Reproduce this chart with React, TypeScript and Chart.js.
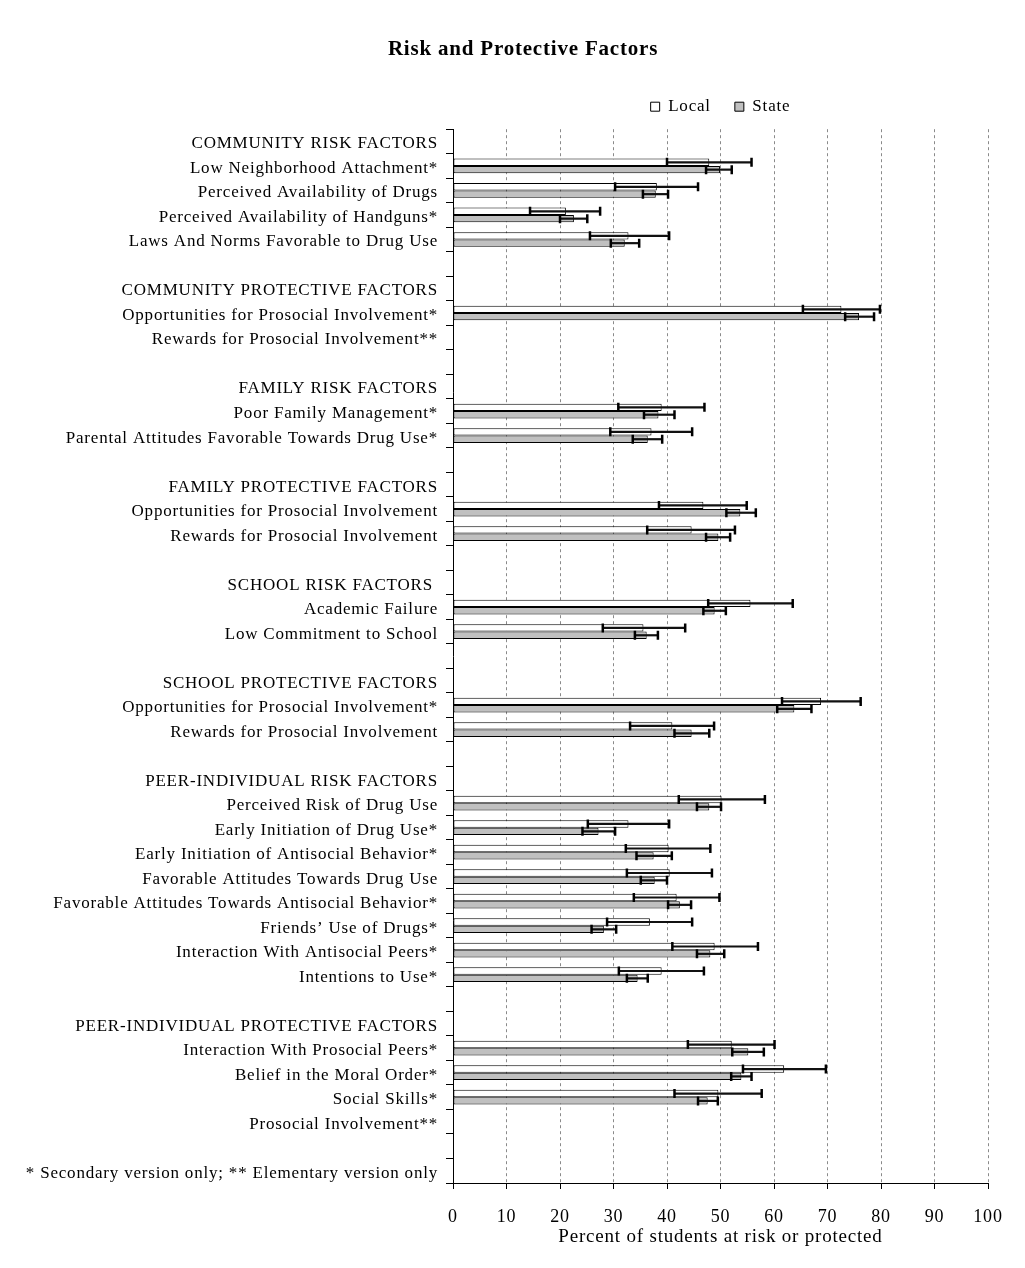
import React, { useEffect, useRef } from "react";
import { Chart, registerables } from "chart.js";

Chart.register(...registerables);

const N = null;
const FONT = "'Liberation Serif', 'Times New Roman', serif";

const categories = [
  "COMMUNITY RISK FACTORS",
  "Low Neighborhood Attachment*",
  "Perceived Availability of Drugs",
  "Perceived Availability of Handguns*",
  "Laws And Norms Favorable to Drug Use",
  "",
  "COMMUNITY PROTECTIVE FACTORS",
  "Opportunities for Prosocial Involvement*",
  "Rewards for Prosocial Involvement**",
  "",
  "FAMILY RISK FACTORS",
  "Poor Family Management*",
  "Parental Attitudes Favorable Towards Drug Use*",
  "",
  "FAMILY PROTECTIVE FACTORS",
  "Opportunities for Prosocial Involvement",
  "Rewards for Prosocial Involvement",
  "",
  "SCHOOL RISK FACTORS ",
  "Academic Failure",
  "Low Commitment to School",
  "",
  "SCHOOL PROTECTIVE FACTORS",
  "Opportunities for Prosocial Involvement*",
  "Rewards for Prosocial Involvement",
  "",
  "PEER-INDIVIDUAL RISK FACTORS",
  "Perceived Risk of Drug Use",
  "Early Initiation of Drug Use*",
  "Early Initiation of Antisocial Behavior*",
  "Favorable Attitudes Towards Drug Use",
  "Favorable Attitudes Towards Antisocial Behavior*",
  "Friends\u2019 Use of Drugs*",
  "Interaction With Antisocial Peers*",
  "Intentions to Use*",
  "",
  "PEER-INDIVIDUAL PROTECTIVE FACTORS",
  "Interaction With Prosocial Peers*",
  "Belief in the Moral Order*",
  "Social Skills*",
  "Prosocial Involvement**",
  "",
  "* Secondary version only; ** Elementary version only",
];

const localValues = [N, 47.9, 38.1, 21.1, 32.8, N, N, 72.6, N, N, N, 39.0, 37.1, N, N, 46.8, 44.6, N, N, 55.6, 35.6, N, N, 68.8, 41.0, N, N, 50.2, 32.8, 40.3, 40.5, 41.8, 36.8, 48.9, 39.0, N, N, 52.1, 61.9, 49.6, N, N, N];
const localLow = [N, 40.0, 30.3, 14.4, 25.6, N, N, 65.4, N, N, N, 30.9, 29.4, N, N, 38.5, 36.3, N, N, 47.7, 28.0, N, N, 61.5, 33.1, N, N, 42.2, 25.2, 32.3, 32.5, 33.8, 28.8, 41.0, 31.0, N, N, 43.9, 54.2, 41.4, N, N, N];
const localHigh = [N, 55.8, 45.8, 27.5, 40.4, N, N, 79.8, N, N, N, 47.0, 44.7, N, N, 54.9, 52.7, N, N, 63.5, 43.4, N, N, 76.2, 48.8, N, N, 58.3, 40.4, 48.1, 48.4, 49.8, 44.7, 57.0, 46.9, N, N, 60.1, 69.7, 57.7, N, N, N];

const stateValues = [N, 49.9, 37.9, 22.6, 32.1, N, N, 75.9, N, N, N, 38.4, 36.4, N, N, 53.7, 49.6, N, N, 48.9, 36.2, N, N, 63.8, 44.6, N, N, 47.9, 27.2, 37.5, 37.7, 42.4, 28.2, 48.1, 34.5, N, N, 55.2, 53.9, 47.6, N, N, N];
const stateLow = [N, 47.3, 35.5, 20.0, 29.5, N, N, 73.3, N, N, N, 35.7, 33.6, N, N, 51.1, 47.3, N, N, 46.8, 34.0, N, N, 60.6, 41.4, N, N, 45.6, 24.2, 34.3, 35.1, 40.2, 25.9, 45.6, 32.5, N, N, 52.2, 52.0, 45.8, N, N, N];
const stateHigh = [N, 52.1, 40.2, 25.1, 34.8, N, N, 78.7, N, N, N, 41.4, 39.1, N, N, 56.6, 51.8, N, N, 51.0, 38.3, N, N, 67.0, 47.9, N, N, 50.1, 30.3, 40.9, 40.0, 44.5, 30.5, 50.7, 36.4, N, N, 58.1, 55.8, 49.5, N, N, N];

const seriesNames = ["Local", "State"];
const xTickStep = 10;
const xMin = 0;
const xMax = 100;

const SPACING = "0.8px";
const spacingPlugin = {
  id: "letterSpacing",
  beforeLayout(chart: any) {
    chart.ctx.letterSpacing = SPACING;
  },
  beforeDraw(chart: any) {
    chart.ctx.letterSpacing = SPACING;
  },
};

const errorBarPlugin = {
  id: "errorBars",
  afterDatasetsDraw(chart: any) {
    const ctx = chart.ctx;
    const xs = chart.scales.x;
    const bounds = [
      [localLow, localHigh],
      [stateLow, stateHigh],
    ];
    bounds.forEach(([lo, hi], d) => {
      const meta = chart.getDatasetMeta(d);
      meta.data.forEach((el: any, i: number) => {
        if (lo[i] == null || hi[i] == null) return;
        const y = el.y;
        const x1 = xs.getPixelForValue(lo[i]);
        const x2 = xs.getPixelForValue(hi[i]);
        ctx.save();
        ctx.strokeStyle = "#111";
        ctx.lineWidth = 2.2;
        ctx.beginPath();
        ctx.moveTo(x1, y);
        ctx.lineTo(x2, y);
        ctx.stroke();
        ctx.strokeStyle = "#000";
        ctx.lineWidth = 2.5;
        ctx.beginPath();
        ctx.moveTo(x1, y - 4.5);
        ctx.lineTo(x1, y + 4.5);
        ctx.moveTo(x2, y - 4.5);
        ctx.lineTo(x2, y + 4.5);
        ctx.stroke();
        ctx.restore();
      });
    });
  },
};

export default function App() {
  const ref = useRef<HTMLCanvasElement | null>(null);

  useEffect(() => {
    if (!ref.current) return;
    const chart = new Chart(ref.current, {
      type: "bar",
      data: {
        labels: categories,
        datasets: [
          {
            label: seriesNames[0],
            data: localValues as any,
            backgroundColor: "#ffffff",
            borderColor: "#000000",
            borderWidth: 1,
            borderSkipped: false,
            xAxisID: "x",
            yAxisID: "y",
            barPercentage: 1,
            categoryPercentage: 0.6,
          },
          {
            label: seriesNames[1],
            data: stateValues as any,
            backgroundColor: "#c0c0c0",
            borderColor: "#000000",
            borderWidth: 1,
            borderSkipped: false,
            xAxisID: "x",
            yAxisID: "y",
            barPercentage: 1,
            categoryPercentage: 0.6,
          },
        ],
      },
      options: {
        indexAxis: "y",
        responsive: false,
        animation: false,
        devicePixelRatio: 1,
        layout: { padding: { left: 21, right: 0, top: 0, bottom: 20 } },
        plugins: {
          title: {
            display: true,
            text: "Risk and Protective Factors",
            color: "#000",
            font: { family: FONT, size: 21, weight: "bold" },
            padding: { top: 37, bottom: 12 },
          },
          legend: {
            display: true,
            position: "top",
            fullSize: false,
            labels: {
              color: "#000",
              font: { family: FONT, size: 17 },
              boxWidth: 9,
              boxHeight: 9,
              padding: 24,
            },
          },
          subtitle: {
            display: true,
            text: " ",
            weight: 500,
            font: { size: 1, lineHeight: 1 },
            padding: { top: 3, bottom: 0 },
          } as any,
          tooltip: { enabled: false },
        },
        scales: {
          x: {
            type: "linear",
            position: "bottom",
            min: xMin,
            max: xMax,
            ticks: {
              stepSize: xTickStep,
              color: "#000",
              font: { family: FONT, size: 18 },
              padding: 17,
            },
            grid: {
              color: "#8a8a8a",
              lineWidth: 1,
              tickColor: "#000",
              tickLength: 6,
              drawTicks: true,
            },
            border: { display: true, color: "#000", width: 1, dash: [3, 3] },
            title: {
              display: true,
              text: "Percent of students at risk or protected",
              color: "#000",
              font: { family: FONT, size: 19 },
              padding: { top: 0, bottom: 0 },
            },
            afterFit: (s: any) => {
              s.height = 65;
            },
          },
          y: {
            type: "category",
            position: "left",
            offset: true,
            ticks: {
              autoSkip: false,
              color: "#000",
              font: { family: FONT, size: 17 },
              padding: 8,
              labelOffset: 2.5,
            },
            grid: {
              offset: true,
              drawOnChartArea: false,
              drawTicks: true,
              tickLength: 7,
              color: "#000",
            },
            border: { display: true, color: "#000", width: 1 },
            afterFit: (s: any) => {
              s.width = 432;
            },
          },
          yR: {
            type: "linear",
            position: "right",
            display: true,
            ticks: { display: false },
            grid: { display: false, drawTicks: false },
            border: { display: false },
            afterFit: (s: any) => {
              s.width = 37;
            },
          },
        },
      } as any,
      plugins: [spacingPlugin, errorBarPlugin],
    });
    return () => chart.destroy();
  }, []);

  return (
    <div style={{ position: "absolute", left: 0, top: 0, width: 1025, height: 1268, background: "#fff" }}>
      <canvas ref={ref} width={1025} height={1268} style={{ display: "block" }} />
    </div>
  );
}
